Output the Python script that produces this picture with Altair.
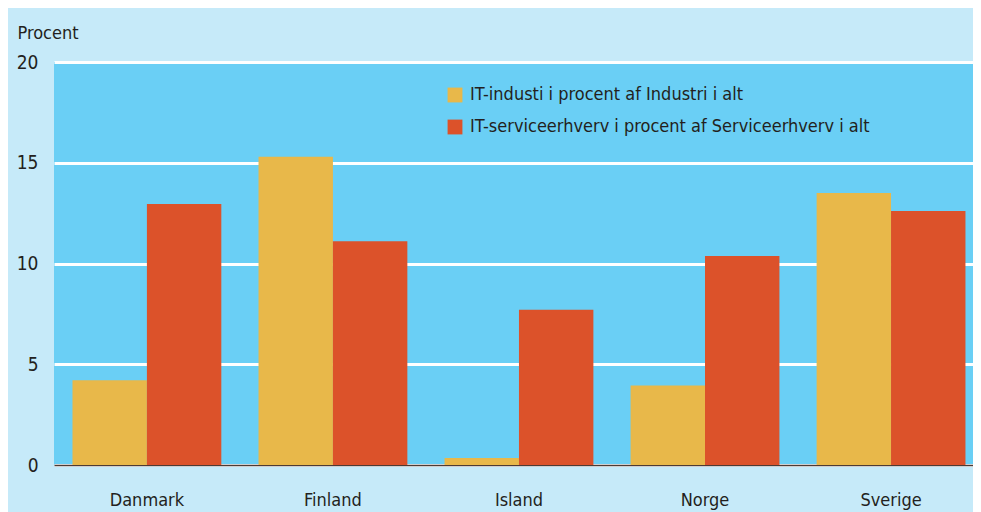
import altair as alt
import pandas as pd

countries = ["Danmark", "Finland", "Island", "Norge", "Sverige"]
series = ["IT-industi i procent af Industri i alt",
          "IT-serviceerhverv i procent af Serviceerhverv i alt"]
it_industri = [4.2, 15.3, 0.35, 3.95, 13.5]
it_service = [12.95, 11.1, 7.7, 10.37, 12.6]
y_ticks = [0, 5, 10, 15, 20]
colors = ["#e8b84a", "#dc522a"]

rows = []
for i, c in enumerate(countries):
    rows.append({"land": c, "serie": series[0], "v": it_industri[i]})
    rows.append({"land": c, "serie": series[1], "v": it_service[i]})
df = pd.DataFrame(rows)

FONT = "DejaVu Sans Condensed"
TXT = "#231f20"

chart = alt.Chart(df).mark_bar().encode(
    x=alt.X("land:N", sort=countries, title=None,
            scale=alt.Scale(paddingInner=0.2, paddingOuter=0.07, align=0.71),
            axis=alt.Axis(labelAngle=0, labelFontSize=18, labelFont=FONT,
                          labelColor=TXT, labelPadding=26, ticks=False,
                          domain=True, domainColor="#4a3b36", domainWidth=1.5,
                          grid=False)),
    xOffset=alt.XOffset("serie:N", sort=series),
    y=alt.Y("v:Q", title="Procent",
            scale=alt.Scale(domain=[0, 20], nice=False),
            axis=alt.Axis(values=y_ticks, domain=False, ticks=False,
                          grid=True, gridColor="white", gridWidth=3,
                          labelFontSize=19, labelFont=FONT, labelColor=TXT,
                          labelPadding=16,
                          titleAngle=0, titleAlign="left",
                          titleBaseline="alphabetic", titleX=-37, titleY=-24,
                          titleFontSize=18, titleFont=FONT,
                          titleFontWeight="normal", titleColor=TXT)),
    color=alt.Color("serie:N", sort=series,
                    scale=alt.Scale(domain=series, range=colors),
                    legend=alt.Legend(title=None, orient="none",
                                      legendX=392, legendY=24,
                                      symbolType="square", symbolSize=220,
                                      symbolStrokeWidth=0, labelFontSize=18,
                                      labelFont=FONT, labelColor=TXT,
                                      rowPadding=14, labelOffset=6,
                                      labelLimit=600)),
).properties(
    width=919, height=403,
    autosize=alt.AutoSizeParams(type="none"),
    padding={"left": 46, "top": 54, "right": 0, "bottom": 47},
    background="#c6eaf9",
).configure_view(fill="#6acff5", stroke=None)

chart.save("out.html", embed_options={"renderer": "svg", "actions": False})
